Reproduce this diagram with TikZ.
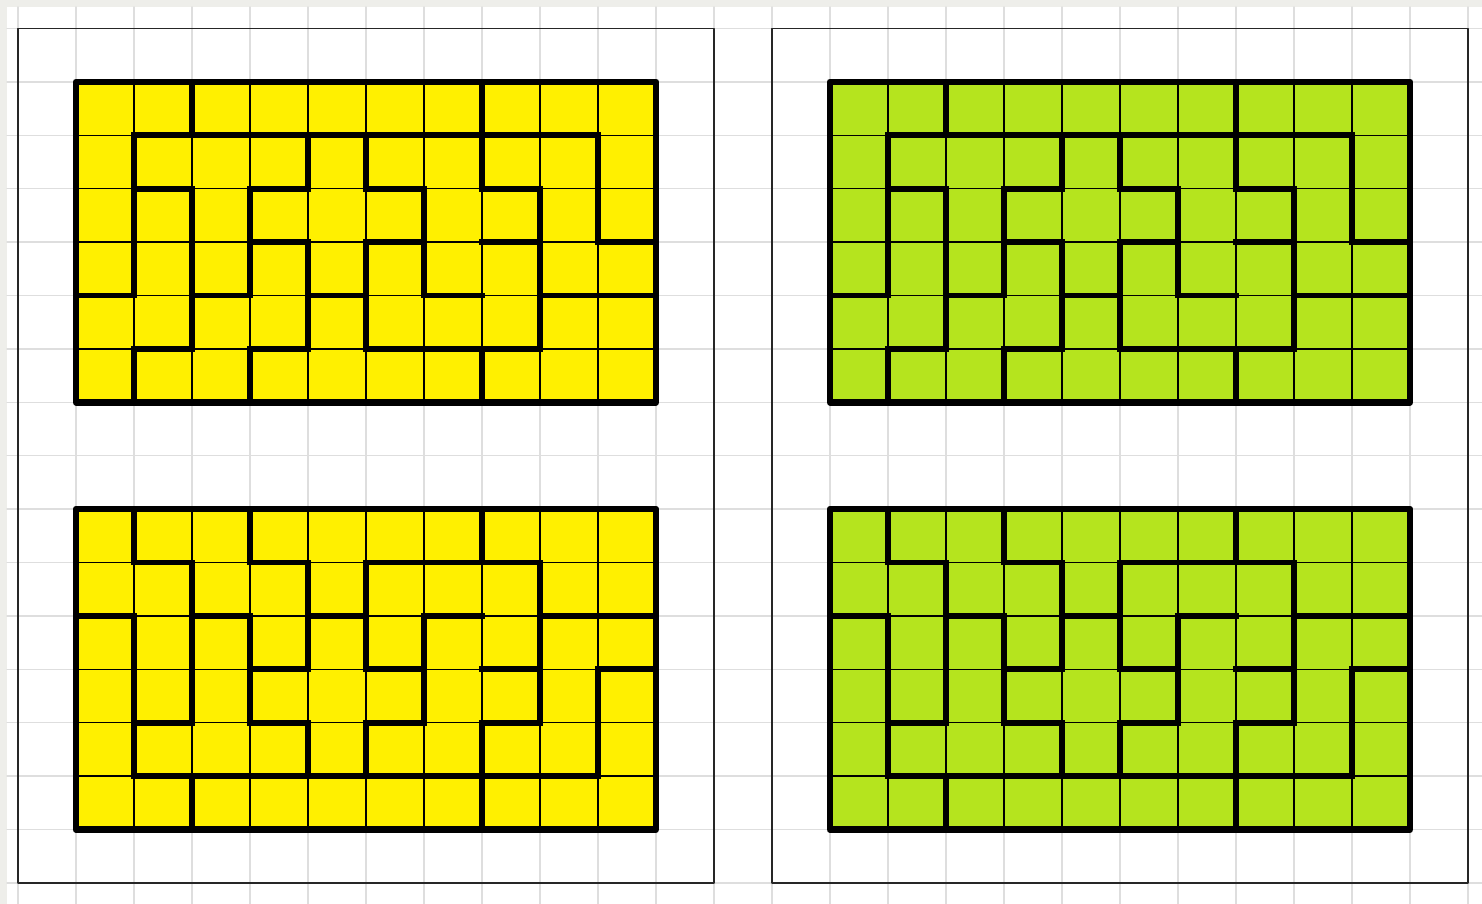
\documentclass[tikz,border=0pt]{standalone}
\usepackage{tikz}

\definecolor{mazeyellow}{RGB}{255,240,0}
\definecolor{mazegreen}{RGB}{181,228,30}
\definecolor{paperline}{RGB}{222,222,222}
\definecolor{paperedge}{RGB}{238,238,234}

\tikzset{
  thin cell/.style={line width=0.9pt, black},
  wall/.style={line width=3.3pt, black, line cap=rect},
  maze border/.style={line width=3.8pt, black},
  panel/.style={line width=1.1pt, black!85},
  paper grid/.style={line width=0.8pt, paperline}
}

% thick cuts of the pentomino tiling, cell units, rows counted downwards
\newcommand{\mazewalls}{%
  \foreach \p/\i/\j in {1/1/9, 2/1/2, 2/3/4, 2/5/6, 2/7/8, 3/3/4, 3/5/6, 3/7/8, 3/9/10,
                        4/0/1, 4/2/3, 4/4/5, 4/6/7, 4/8/10, 5/1/2, 5/3/4, 5/5/8}
    \draw[wall] (\i,\p) -- (\j,\p);
  \foreach \p/\i/\j in {1/1/4, 1/5/6, 2/0/1, 2/2/5, 3/2/4, 3/5/6, 4/1/2, 4/3/5,
                        5/1/2, 5/3/5, 6/2/4, 7/0/2, 7/5/6, 8/2/5, 9/1/3}
    \draw[wall] (\p,\i) -- (\p,\j);
}

\newcommand{\mazeboard}[1]{%
  \fill[#1] (0,0) rectangle (10,6);
  \foreach \c in {1,...,9} \draw[thin cell] (\c,0) -- (\c,6);
  \foreach \r in {1,...,5} \draw[thin cell] (0,\r) -- (10,\r);
  \mazewalls
  \draw[maze border] (0,0) rectangle (10,6);
}

\begin{document}
\begin{tikzpicture}[
      x=1.16cm, y=-1.068cm,
      line cap=round,
      line join=round
      ]
      \useasboundingbox (-0.3103,-0.5337) rectangle (25.2414,16.3951);
      
      % squared paper
      \fill[white] (-0.3103,-0.5337) rectangle (25.2414,16.3951);
      \fill[paperedge] (-0.3103,-0.5337) rectangle (25.2414,-0.4026);
      \fill[paperedge] (-0.3103,-0.5337) rectangle (-0.19,16.3951);
      \foreach \x in {0,1,...,25}
        \draw[paper grid] (\x,-0.4026) -- (\x,16.3951);
      \foreach \y in {0,1,...,16}
        \draw[paper grid] (-0.19,\y) -- (25.2414,\y);
      
      % the two frames
      \draw[panel] (0,0) rectangle (12,16);
      \draw[panel] (13,0) rectangle (25,16);
      
      % left frame, yellow boards
      \begin{scope}[shift={(1,1)}]
        \mazeboard{mazeyellow}
      \end{scope}
      \begin{scope}[shift={(1,15)}, yscale=-1]
        \mazeboard{mazeyellow}
      \end{scope}
      
      % right frame, green boards
      \begin{scope}[shift={(14,1)}]
        \mazeboard{mazegreen}
      \end{scope}
      \begin{scope}[shift={(14,15)}, yscale=-1]
        \mazeboard{mazegreen}
      \end{scope}
\end{tikzpicture}
\end{document}
